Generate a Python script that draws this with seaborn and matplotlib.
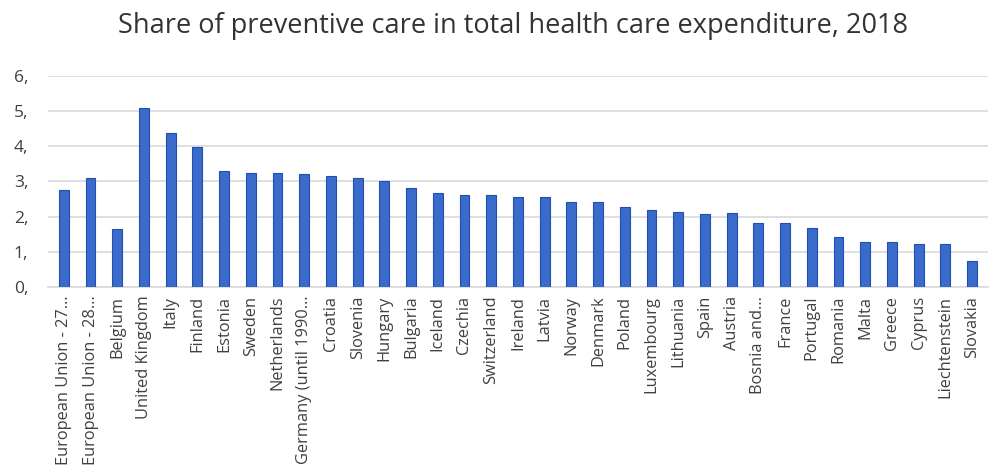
import matplotlib
matplotlib.use("Agg")
import matplotlib.pyplot as plt
import seaborn as sns
import pandas as pd

countries = [
    "European Union - 27…", "European Union - 28…", "Belgium", "United Kingdom",
    "Italy", "Finland", "Estonia", "Sweden", "Netherlands", "Germany (until 1990…",
    "Croatia", "Slovenia", "Hungary", "Bulgaria", "Iceland", "Czechia",
    "Switzerland", "Ireland", "Latvia", "Norway", "Denmark", "Poland",
    "Luxembourg", "Lithuania", "Spain", "Austria", "Bosnia and…", "France",
    "Portugal", "Romania", "Malta", "Greece", "Cyprus", "Liechtenstein", "Slovakia",
]
share = [
    2.76, 3.11, 1.65, 5.08,
    4.37, 3.98, 3.30, 3.25, 3.25, 3.20,
    3.15, 3.10, 3.00, 2.81, 2.67, 2.62,
    2.62, 2.57, 2.57, 2.42, 2.42, 2.29,
    2.19, 2.14, 2.09, 2.11, 1.82, 1.82,
    1.67, 1.42, 1.28, 1.28, 1.23, 1.22, 0.74,
]
y_ticks = [0, 1, 2, 3, 4, 5, 6]
y_tick_labels = ["0,", "1,", "2,", "3,", "4,", "5,", "6,"]

df = pd.DataFrame({"Country": countries, "Share": share})

sns.set_style("white")
plt.rcParams["font.family"] = ["Open Sans", "DejaVu Sans"]

fig = plt.figure(figsize=(9.96, 4.75), dpi=100)
ax = fig.add_axes([0.048, 0.395, 0.944, 0.446])

sns.barplot(data=df, x="Country", y="Share", color="#3A6BCB", saturation=1,
            width=0.37, edgecolor="#1F4FB0", linewidth=0.8, ax=ax, zorder=3)

ax.set_ylim(0, 6)
ax.set_xlim(-0.6, len(countries) - 0.4)
ax.set_yticks(y_ticks)
ax.set_yticklabels(y_tick_labels, fontsize=12.5, color="#404040")
ax.tick_params(axis="x", labelrotation=90, labelsize=11.8, labelcolor="#404040", length=0, pad=6)
ax.tick_params(axis="y", length=0, pad=14)
ax.yaxis.grid(True, color="#D9D9D9", linewidth=1.2, zorder=0)
ax.set_axisbelow(True)
for s in ["top", "right", "left"]:
    ax.spines[s].set_visible(False)
ax.spines["bottom"].set_color("#D9D9D9")
ax.spines["bottom"].set_linewidth(1.2)
ax.set_xlabel("")
ax.set_ylabel("")

fig.suptitle("Share of preventive care in total health care expenditure, 2018",
             x=0.515, y=0.975, fontsize=19.5, color="#333333")

fig.savefig("out.png", dpi=100, facecolor="white")
